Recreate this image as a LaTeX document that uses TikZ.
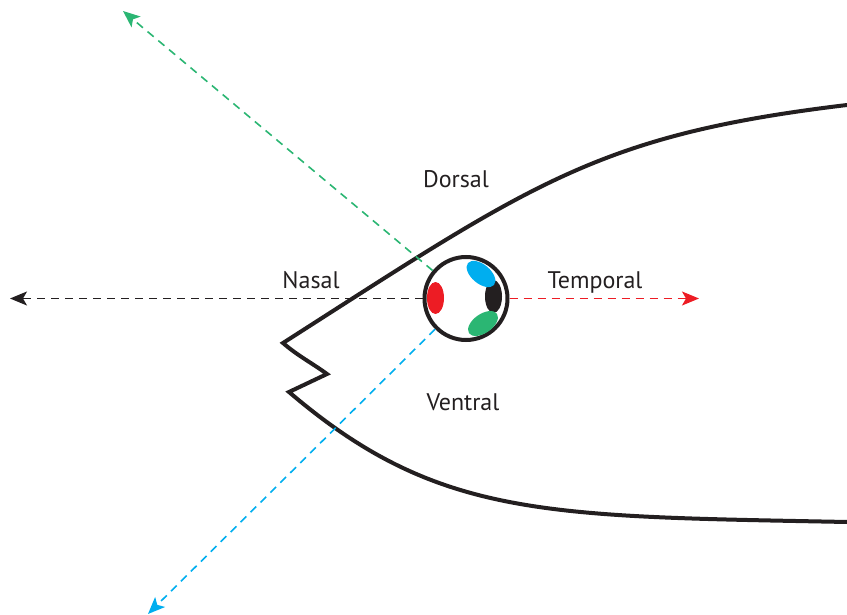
\documentclass[tikz,border=0pt]{standalone}
\usepackage{fontspec}
\setmainfont{PT Sans}
\usetikzlibrary{arrows.meta,shapes.geometric}
\definecolor{ink}{RGB}{35,31,32}
\definecolor{vred}{RGB}{237,28,36}
\definecolor{vgreen}{RGB}{43,182,115}
\definecolor{vblue}{RGB}{0,174,239}
\begin{document}
\begin{tikzpicture}[x=1pt,y=-1pt,
  outline/.style={draw=ink,line width=4pt,line join=miter},
  ray/.style={line width=1.6pt,dash pattern=on 8pt off 6pt,
    -{Stealth[length=17pt,width=14pt,inset=4pt]}},
  label/.style={anchor=base,inner sep=0pt,font=\fontsize{24}{28}\selectfont,text=ink},
  cone/.style={ellipse,inner sep=0pt,draw=none}]
\useasboundingbox (0,0) rectangle (847,615);

% body outline with the mouth notch
\draw[outline] (847,105) .. controls (597,135) and (533,183) .. (283,343)
  .. controls (298,356) and (312,363) .. (327,374) -- (289,392)
  .. controls (438,519) and (547,516) .. (847,522);

% eye
\node[circle,draw=ink,fill=white,line width=4pt,minimum size=83pt,inner sep=0pt] (eye) at (466,298.5) {};
\node[cone,fill=vred,minimum width=17pt,minimum height=32pt] (r) at (435.5,298) {};
\node[cone,fill=ink,minimum width=17pt,minimum height=33pt] (k) at (493.5,296.5) {};
\node[cone,fill=vblue,minimum width=34pt,minimum height=19pt,rotate=-40] (b) at (481,274) {};
\node[cone,fill=vgreen,minimum width=34pt,minimum height=19pt,rotate=35] (g) at (483,323.5) {};

% viewing directions
\coordinate (nasalTip) at (10,298.5);
\coordinate (tempTip) at (699,298.5);
\coordinate (dorsTip) at (123,11);
\coordinate (ventTip) at (148,614);
\draw[ray,ink] (eye) -- (nasalTip);
\draw[ray,vred] (eye) -- (tempTip);
\draw[ray,vgreen] (eye) -- (dorsTip);
\draw[ray,vblue] (eye) -- (ventTip);

% labels
\node[label] (dors) at (456,188) {Dorsal};
\node[label] (nas) at (311,288) {Nasal};
\node[label] (temp) at (595,288) {Temporal};
\node[label] (vent) at (463,410) {Ventral};
\end{tikzpicture}
\end{document}
